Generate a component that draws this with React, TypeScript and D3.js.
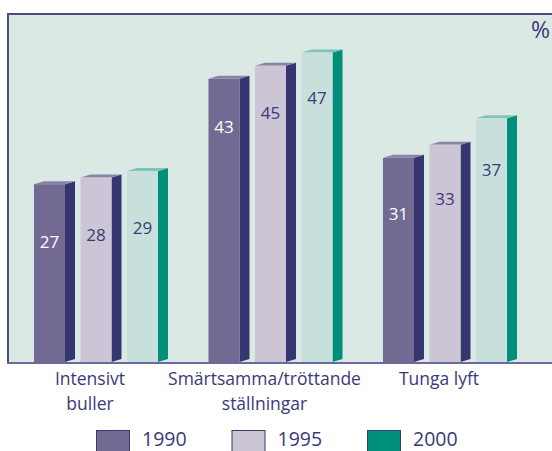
import React from "react";
import * as d3 from "d3";

const categories = ["Intensivt buller", "Smärtsamma/tröttande ställningar", "Tunga lyft"];
const categoryLines = [["Intensivt", "buller"], ["Smärtsamma/tröttande", "ställningar"], ["Tunga lyft"]];
const years = ["1990", "1995", "2000"];
const values1990 = [27, 43, 31];
const values1995 = [28, 45, 33];
const values2000 = [29, 47, 37];

const series = [values1990, values1995, values2000];
const front = ["#736a94", "#cbc5d6", "#c8e0db"];
const side = ["#35366f", "#35366f", "#008f7a"];
const topFace = ["#8a82a8", "#8a82a8", "#7fc4b4"];
const swatch = ["#736a94", "#cbc5d6", "#008f7a"];
const labelColor = ["#ffffff", "#3a3a78", "#3a3a78"];

const W = 552;
const H = 451;
const base = 362;
const DX = 10;
const DY = 3;
const font = "'Open Sans', 'Noto Sans', sans-serif";

export default function App() {
  const y = d3.scaleLinear().domain([0, 53]).range([base, 13]);
  const x0 = d3
    .scaleBand()
    .domain(categories)
    .range([8.75, 532.25])
    .paddingInner(0.2894)
    .paddingOuter(0.1447);
  const x1 = d3.scaleBand().domain(years).range([0, x0.bandwidth()]).paddingInner(0.333);
  const bw = x1.bandwidth();

  return (
    <svg width={W} height={H} style={{ position: "absolute", left: 0, top: 0 }}>
      <rect x={7} y={13} width={W - 7} height={base - 13} fill="#dbe9e4" />
      <line x1={7} x2={W} y1={14} y2={14} stroke="#4a4a80" strokeWidth={2} />
      <line x1={8} x2={8} y1={13} y2={base} stroke="#4a4a80" strokeWidth={2} />
      {categories.map((c, ci) => (
        <g key={c} transform={`translate(${x0(c)},0)`}>
          {years.map((yr, si) => {
            const v = series[si][ci];
            const bx = x1(yr) as number;
            const ty = y(v);
            const h = base - ty;
            const ly = ty + 75 - 0.094 * h;
            return (
              <g key={yr}>
                <polygon
                  points={`${bx + bw},${ty} ${bx + bw + DX},${ty - DY} ${bx + bw + DX},${base - DY} ${bx + bw},${base}`}
                  fill={side[si]}
                />
                <polygon
                  points={`${bx},${ty} ${bx + DX},${ty - DY} ${bx + bw + DX},${ty - DY} ${bx + bw},${ty}`}
                  fill={topFace[si]}
                />
                <rect x={bx} y={ty} width={bw} height={h} fill={front[si]} />
                <text
                  x={bx + bw / 2}
                  y={ly}
                  dy="0.35em"
                  textAnchor="middle"
                  fontFamily={font}
                  fontSize={17}
                  fill={labelColor[si]}
                >
                  {v}
                </text>
              </g>
            );
          })}
        </g>
      ))}
      <line x1={7} x2={W} y1={base + 1} y2={base + 1} stroke="#6b6b9a" strokeWidth={2} />
      <text x={550} y={38} textAnchor="end" fontFamily={font} fontSize={23} fill="#3a3a78">
        %
      </text>
      {categories.map((c, ci) => {
        const cx = (x0(c) as number) + x0.bandwidth() / 2 - 6;
        return (
          <text
            key={c}
            x={cx}
            y={385}
            textAnchor="middle"
            fontFamily={font}
            fontSize={17.5}
            fill="#3a3a78"
          >
            {categoryLines[ci].map((l, li) => (
              <tspan key={l} x={cx} dy={li === 0 ? 0 : 25}>
                {l}
              </tspan>
            ))}
          </text>
        );
      })}
      {years.map((yr, si) => (
        <g key={yr} transform={`translate(${96 + si * 135.5},430)`}>
          <rect x={0.5} y={0.5} width={33} height={30} fill={swatch[si]} stroke="#3a3a70" />
          <text x={46} y={16} fontFamily={font} fontSize={19.5} fill="#3a3a78">
            {yr}
          </text>
        </g>
      ))}
    </svg>
  );
}
